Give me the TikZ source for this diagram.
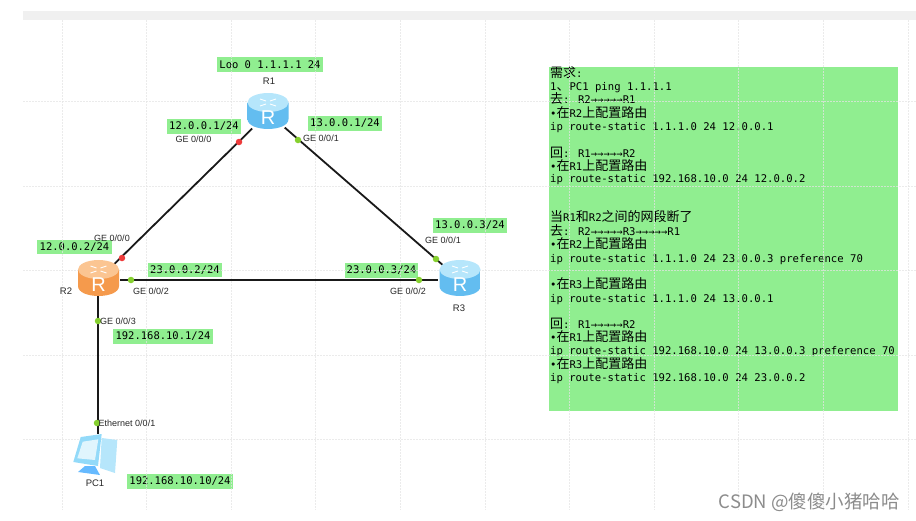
\documentclass[tikz,border=0pt]{standalone}
\usepackage{fontspec}
\setmainfont{Liberation Sans}
\newfontfamily\monof{DejaVu Sans Mono}
\newfontfamily\cjk{Noto Sans CJK SC}
\usetikzlibrary{calc}

\definecolor{notegreen}{HTML}{90EE90}
\definecolor{gridgray}{HTML}{E4E4E4}
\definecolor{routerside}{HTML}{63BDF0}
\definecolor{routermid}{HTML}{93DAF9}
\definecolor{routertop}{HTML}{B6E6FB}
\definecolor{orangeside}{HTML}{F59A4C}
\definecolor{orangemid}{HTML}{FBBF85}
\definecolor{orangetop}{HTML}{FBC592}
\definecolor{okgreen}{HTML}{86D02F}
\definecolor{downred}{HTML}{EE3B3B}

\newcommand{\cn}[1]{{\cjk\fontsize{13}{13}\selectfont #1}}

% router icon: centre, side colour, middle colour, top colour
\newcommand{\routericon}[4]{
  \begin{scope}[shift={(#1)}]
    \shade[left color=#2, middle color=#3, right color=#2] (-20.5,-8.5) -- (-20.5,8) .. controls (-20.5,21.3) and (20.5,21.3) .. (20.5,8) -- (20.5,-8.5) -- cycle;
    \fill[#4] (0,-8.5) ellipse [x radius=20.5, y radius=9.5];
    \draw[white, line width=0.9pt] (-8,-12) -- (-2,-10) (8,-12) -- (2,-10) (-8,-5) -- (-2,-7) (8,-5) -- (2,-7);
    \node[white, font=\fontsize{20}{20}\selectfont] at (0,7) {R};
  \end{scope}
}

\begin{document}
\begin{tikzpicture}[
  x=1pt, y=-1pt,
  hub/.style={circle, minimum size=44pt, inner sep=0pt},
  hostbox/.style={minimum width=44pt, minimum height=42pt, inner sep=0pt},
  gridln/.style={gridgray, line width=0.8pt, dash pattern=on 2pt off 1pt, opacity=0.75},
  link/.style={black!90, line width=1.8pt},
  ipnote/.style={fill=notegreen, inner sep=0pt, minimum height=14.5pt, font=\monof\fontsize{10.5}{12}\selectfont},
  ifname/.style={inner sep=0pt, font=\fontsize{9}{10}\selectfont, text=black!85},
  devname/.style={inner sep=0pt, font=\fontsize{9.5}{11}\selectfont, text=black!85},
  okdot/.style={circle, fill=okgreen, minimum size=6.5pt, inner sep=0pt},
  downdot/.style={circle, fill=downred, minimum size=6.5pt, inner sep=0pt},
  noteline/.style={anchor=base west, inner sep=0pt, font=\monof\fontsize{10.6}{12}\selectfont}]

    \useasboundingbox (0,0) rectangle (916,520);

    \fill[black!6] (23,11) rectangle (916,20);

    \node at (268,113) [hub] (R1) {};
    \node at (98,280) [hub] (R2) {};
    \node at (460,280) [hub] (R3) {};
    \node at (98,455) [hostbox] (PC1) {};

    \node at (723.5,239) [fill=notegreen, minimum width=349pt, minimum height=344pt, inner sep=0pt] (notebox) {};

    \node at (270,64.5) [ipnote, minimum width=106pt] (loopnote) {Loo 0 1.1.1.1 24};
    \node at (204,126.5) [ipnote, minimum width=74pt] (r1left) {12.0.0.1/24};
    \node at (345,123.5) [ipnote, minimum width=74pt] (r1right) {13.0.0.1/24};
    \node at (74.5,247) [ipnote, minimum width=75pt] (r2up) {12.0.0.2/24};
    \node at (185,270) [ipnote, minimum width=74pt] (r2right) {23.0.0.2/24};
    \node at (163,336.5) [ipnote, minimum width=100pt] (r2down) {192.168.10.1/24};
    \node at (470,225.5) [ipnote, minimum width=74pt] (r3up) {13.0.0.3/24};
    \node at (381.5,270.5) [ipnote, minimum width=73pt] (r3left) {23.0.0.3/24};
    \node at (180,481.5) [ipnote, minimum width=106pt] (pcnote) {192.168.10.10/24};

    \foreach \ypos/\txt [count=\i] in {
        77/{\cn{需求}:},
        90.5/{1\cn{、}PC1 ping 1.1.1.1},
        103.5/{\cn{去}: R2→→→→→R1},
        117/{•\cn{在}R2\cn{上配置路由}},
        130.7/{ip route-static 1.1.1.0 24 12.0.0.1},
        157/{\cn{回}: R1→→→→→R2},
        170/{•\cn{在}R1\cn{上配置路由}},
        182/{ip route-static 192.168.10.0 24 12.0.0.2},
        221.7/{\cn{当}R1\cn{和}R2\cn{之间的网段断了}},
        235.5/{\cn{去}: R2→→→→→R3→→→→→R1},
        248.5/{•\cn{在}R2\cn{上配置路由}},
        262/{ip route-static 1.1.1.0 24 23.0.0.3 preference 70},
        288/{•\cn{在}R3\cn{上配置路由}},
        302/{ip route-static 1.1.1.0 24 13.0.0.1},
        328/{\cn{回}: R1→→→→→R2},
        341/{•\cn{在}R1\cn{上配置路由}},
        354/{ip route-static 192.168.10.0 24 13.0.0.3 preference 70},
        368/{•\cn{在}R3\cn{上配置路由}},
        381/{ip route-static 192.168.10.0 24 23.0.0.2}}
        \node[noteline] (note\i) at (550,\ypos) {\txt};

    \foreach \i in {0,...,10}
        \draw[gridln] ({62+84.6*\i},20) -- ({62+84.6*\i},510);
    \foreach \i in {0,...,4}
        \draw[gridln] (23,{101.7+84.5*\i}) -- (916,{101.7+84.5*\i});

    \draw[link] (R1) -- (R2);
    \draw[link] (R1) -- (R3);
    \draw[link] (R2) -- (R3);
    \draw[link, shorten <=-6pt] (R2) -- (PC1);

    \routericon{268,111}{routerside}{routermid}{routertop}
    \routericon{98.5,278}{orangeside}{orangemid}{orangetop}
    \routericon{460,278}{routerside}{routermid}{routertop}

    % PC
    \begin{scope}[shift={(97,455)}]
      \fill[blue!45!cyan!60] (-19,17) -- (3,20) -- (-2,11) -- (-12,11) -- cycle;
      \fill[routertop] (4.7,-17) -- (20.3,-15) -- (18,18) -- (3,13) -- cycle;
      \fill[routermid] (-16.3,-18) -- (4.7,-21) -- (1,11) -- (-23.7,7) -- cycle;
      \fill[cyan!12] (-14.3,-13.3) -- (1.3,-15.7) -- (-2,5) -- (-19.7,3.3) -- cycle;
    \end{scope}

    \node at (239,142) [downdot] (d1) {};
    \node at (122,258) [downdot] (d2) {};
    \node at (298,140) [okdot] (d3) {};
    \node at (436,259) [okdot] (d4) {};
    \node at (131,280) [okdot] (d5) {};
    \node at (419,280) [okdot] (d6) {};
    \node at (98,321) [okdot] (d7) {};
    \node at (97,423) [okdot] (d8) {};

    \node at (269,81) [devname] (nameR1) {R1};
    \node at (66,291) [devname] (nameR2) {R2};
    \node at (459,308) [devname] (nameR3) {R3};
    \node at (95,483) [devname] (namePC1) {PC1};

    \node at (193.5,139) [ifname] (if1) {GE 0/0/0};
    \node at (321,138) [ifname] (if2) {GE 0/0/1};
    \node at (112,238) [ifname] (if3) {GE 0/0/0};
    \node at (151,291) [ifname] (if4) {GE 0/0/2};
    \node at (118,321) [ifname] (if5) {GE 0/0/3};
    \node at (443,240) [ifname] (if6) {GE 0/0/1};
    \node at (408,291) [ifname] (if7) {GE 0/0/2};
    \node at (127,423) [ifname] (if8) {Ethernet 0/0/1};

    \node at (900,502) [anchor=east, inner sep=0pt, text=black!45, font=\cjk\fontsize{18.5}{20}\selectfont] (mark) {CSDN @傻傻小猪哈哈};

\end{tikzpicture}
\end{document}
